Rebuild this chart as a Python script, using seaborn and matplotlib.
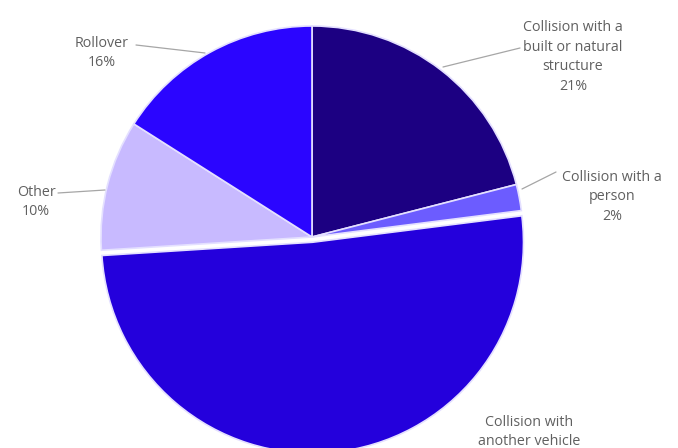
import matplotlib
matplotlib.use("Agg")
import matplotlib.pyplot as plt
import seaborn as sns
import numpy as np

sns.set_theme(style="white")
plt.rcParams['font.family'] = ['Open Sans', 'DejaVu Sans']

categories = ["Collision with a\nbuilt or natural\nstructure", "Collision with a\nperson",
              "Collision with\nanother vehicle", "Other", "Rollover"]
values = [21, 2, 51, 10, 16]
colors = ["#1c0082", "#6c5cff", "#2400dc", "#c8baff", "#2b05ff"]
explode = [0, 0, 0.025, 0, 0]

fig = plt.figure(figsize=(6.78, 4.48), dpi=100)
ax = fig.add_axes([0, 0, 1, 1])
R = 211.0
cx, cy = 312.0, 237.0

wedges, _ = ax.pie(values, colors=colors, startangle=90, counterclock=False,
                   explode=explode, radius=1.0,
                   wedgeprops=dict(edgecolor="#e4e0ff", linewidth=1.2))
ax.set_xlim(-cx / R, (678 - cx) / R)
ax.set_ylim(-(448 - cy) / R, cy / R)
ax.set_aspect('equal')
ax.axis('off')

def px(x, y):
    return ((x - cx) / R, (cy - y) / R)

txtc = "#606060"
fs = 10.3
# the reference crops the vehicle label after its second line (percentage off-canvas)
labels = [f"{c}\n{v}%" for c, v in zip(categories, values)]
labels[2] = categories[2]
pos = [(573, 57), (612, 197), (529, 432), (36, 202), (102, 53)]
lines = [((443, 67), (520, 48)), ((522, 189), (556, 172)), None,
         ((105, 190), (58, 193)), ((205, 53), (136, 45))]
for lab, p, ln in zip(labels, pos, lines):
    x, y = px(*p)
    ax.text(x, y, lab, ha='center', va='center', color=txtc, fontsize=fs,
            linespacing=1.45)
    if ln:
        (x0, y0), (x1, y1) = px(*ln[0]), px(*ln[1])
        ax.plot([x0, x1], [y0, y1], color="#a6a6a6", lw=0.9)

fig.savefig("out.png", dpi=100, facecolor="white")
